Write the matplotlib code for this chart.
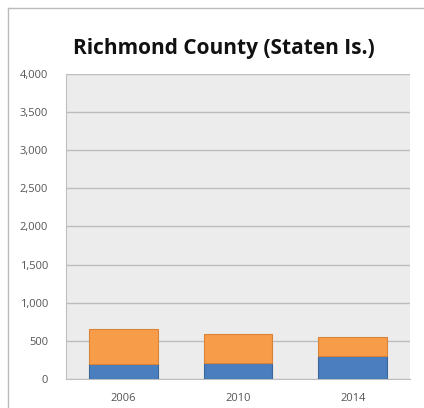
import matplotlib.pyplot as plt
from matplotlib.lines import Line2D
from matplotlib.ticker import FuncFormatter

years = ["2006", "2010", "2014"]
lower = [200, 210, 305]
upper = [450, 375, 250]

fig = plt.figure(figsize=(4.24, 4.08), dpi=100)
ax = fig.add_axes([0.156, 0.071, 0.811, 0.748])

blue = "#4A7EBF"
orange = "#F79C48"
x = range(len(years))
ax.bar(x, lower, width=0.6, color=blue, edgecolor="#3B6699", linewidth=0.8, zorder=3)
ax.bar(x, upper, bottom=lower, width=0.6, color=orange, edgecolor="#D9823A",
       linewidth=0.8, zorder=3)

ax.set_xlim(-0.5, 2.5)
ax.set_ylim(0, 4000)
ax.set_yticks(range(0, 4001, 500))
ax.yaxis.set_major_formatter(FuncFormatter(lambda v, p: "{:,.0f}".format(v)))
ax.set_xticks(list(x))
ax.set_xticklabels(years)
ax.set_facecolor("#ECECEC")
ax.grid(axis="y", color="#BDBDBD", linewidth=1.0, zorder=0)
for side in ["top", "right"]:
    ax.spines[side].set_visible(False)
for side in ["left", "bottom"]:
    ax.spines[side].set_color("#BFBFBF")
ax.tick_params(axis="both", length=0, labelsize=8, colors="#555555")
ax.tick_params(axis="y", pad=13)
ax.tick_params(axis="x", pad=10)
for lab in ax.get_xticklabels() + ax.get_yticklabels():
    lab.set_family("Open Sans")

fig.text(0.527, 0.882, "Richmond County (Staten Is.)", ha="center", va="center",
         fontsize=15, fontweight="bold", family="Open Sans", color="#111111")

# chart frame, top and left edges
fig.add_artist(Line2D([8 / 424, 8 / 424], [0, 1 - 8 / 408], color="#BBBBBB", lw=1))
fig.add_artist(Line2D([8 / 424, 1], [1 - 8 / 408, 1 - 8 / 408], color="#BBBBBB", lw=1))

fig.savefig("out.png", dpi=100)
